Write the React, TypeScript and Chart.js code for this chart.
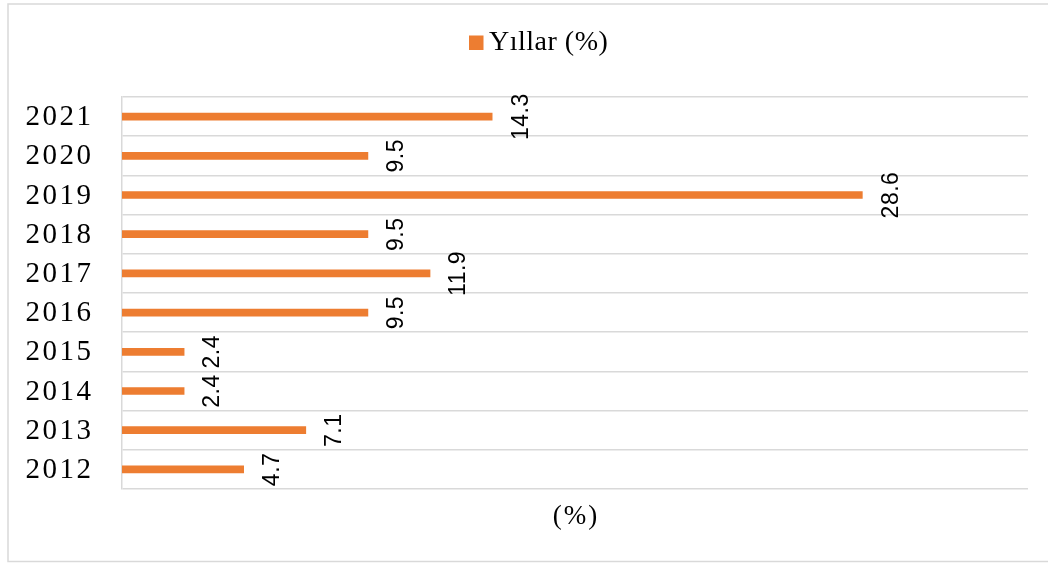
import React, { useEffect, useRef } from "react";
import { Chart, registerables } from "chart.js";

Chart.register(...registerables);

const years = ["2012", "2013", "2014", "2015", "2016", "2017", "2018", "2019", "2020", "2021"];
const values = [4.7, 7.1, 2.4, 2.4, 9.5, 11.9, 9.5, 28.6, 9.5, 14.3];
const seriesName = "Yıllar (%)";
const axisTitle = "(%)";
const xMax = 35;

const BAR = "#ED7D31";
const GRID = "#d9d9d9";

const overlay = {
  id: "overlay",
  beforeDraw(chart: any) {
    const ctx = chart.ctx;
    ctx.save();
    ctx.fillStyle = "#fff";
    ctx.fillRect(0, 0, chart.width, chart.height);
    ctx.strokeStyle = GRID;
    ctx.lineWidth = 1.5;
    ctx.strokeRect(8, 4, 1100, 557.5);
    ctx.restore();
  },
  afterDraw(chart: any) {
    const ctx = chart.ctx;
    const area = chart.chartArea;
    const meta = chart.getDatasetMeta(0);
    const yScale = chart.scales.y;
    ctx.save();
    // category labels
    ctx.font = '29px "Liberation Serif"';
    ctx.fillStyle = "#000";
    ctx.textAlign = "right";
    ctx.textBaseline = "middle";
    (ctx as any).letterSpacing = "2.5px";
    years.forEach((yr, i) => {
      ctx.fillText(yr, area.left - 28.5, yScale.getPixelForValue(i) + 1);
    });
    // x title
    (ctx as any).letterSpacing = "2px";
    ctx.textAlign = "center";
    ctx.font = '27px "Liberation Serif"';
    ctx.fillText(axisTitle, (area.left + area.right) / 2 + 1, 517);
    // legend
    (ctx as any).letterSpacing = "0.5px";
    ctx.font = '28px "Liberation Serif"';
    ctx.fillStyle = BAR;
    ctx.fillRect(469, 35.5, 14.5, 14.5);
    ctx.fillStyle = "#000";
    ctx.textAlign = "left";
    ctx.fillText(seriesName, 489, 43);
    // data labels, rotated
    (ctx as any).letterSpacing = "0.5px";
    ctx.font = '23px "Liberation Sans"';
    ctx.textAlign = "center";
    ctx.textBaseline = "middle";
    meta.data.forEach((bar: any, i: number) => {
      ctx.save();
      ctx.translate(bar.x + 29, bar.y);
      ctx.rotate(-Math.PI / 2);
      ctx.fillText(String(values[i]), 0, 0);
      ctx.restore();
    });
    ctx.restore();
  },
};

export default function App() {
  const ref = useRef<HTMLCanvasElement>(null);
  useEffect(() => {
    if (!ref.current) return;
    const chart = new Chart(ref.current, {
      type: "bar",
      data: {
        labels: years,
        datasets: [
          {
            label: seriesName,
            data: values,
            backgroundColor: BAR,
            barThickness: 7,
          },
        ],
      },
      options: {
        indexAxis: "y",
        animation: false,
        responsive: false,
        devicePixelRatio: 1,
        layout: { padding: { left: 122, right: 20, top: 97, bottom: 74 } },
        plugins: { legend: { display: false }, tooltip: { enabled: false } },
        scales: {
          x: { display: false, min: 0, max: xMax },
          y: {
            reverse: true,
            ticks: { display: false },
            grid: { color: GRID, lineWidth: 1.5, drawTicks: false, offset: true },
            border: { display: true, color: GRID, width: 1.5 },
            afterFit: (s: any) => {
              s.width = 0;
            },
          },
        },
      },
      plugins: [overlay],
    });
    return () => chart.destroy();
  }, []);
  return (
    <canvas
      ref={ref}
      width={1048}
      height={563}
      style={{ position: "absolute", left: 0, top: 0, display: "block" }}
    />
  );
}
